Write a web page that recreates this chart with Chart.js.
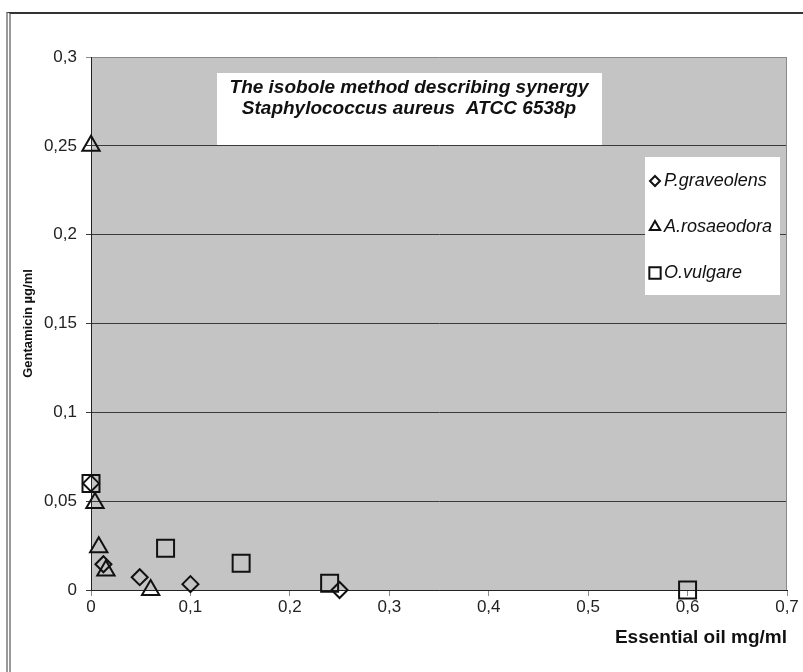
<!DOCTYPE html>
<html>
<head>
<meta charset="utf-8">
<script src="https://cdn.jsdelivr.net/npm/chart.js@4.4.1/dist/chart.umd.min.js"></script>
<style>
  html, body { margin: 0; padding: 0; background: #fff; }
  #wrap { position: relative; width: 803px; height: 672px; overflow: hidden; }
  #frame { position: absolute; left: 6px; top: 12px; width: 900px; height: 800px;
           border-top: 2px solid #333; border-left: 5px double #9a9a9a; }
  canvas { position: absolute; left: 0; top: 0; }
</style>
</head>
<body>
<div id="wrap">
  <div id="frame"></div>
  <canvas id="isobole" width="803" height="672"></canvas>
</div>
<script>
// values
const series_names = ["P.graveolens", "A.rosaeodora", "O.vulgare"];
const point_styles = ["rectRot", "triangle", "rect"];
const point_sizes = [8, 10, 12];     // radius of the plot markers
const legend_sizes = [5, 6, 8];      // radius of the legend markers

const graveolens_x = [0, 0.0125, 0.049, 0.1, 0.25];
const graveolens_y = [0.06, 0.0145, 0.0072, 0.0033, 0];
const rosaeodora_x = [0, 0.004, 0.0078, 0.015, 0.06];
const rosaeodora_y = [0.25, 0.049, 0.024, 0.011, 0];
const vulgare_x = [0, 0.075, 0.151, 0.24, 0.6];
const vulgare_y = [0.06, 0.0235, 0.015, 0.0038, 0];

const x_tick_labels = ["0", "0,1", "0,2", "0,3", "0,4", "0,5", "0,6", "0,7"];
const y_tick_labels = ["0", "0,05", "0,1", "0,15", "0,2", "0,25", "0,3"];

const title_lines = ["The isobole method describing synergy", "Staphylococcus aureus  ATCC 6538p"];

const toPoints = (xs, ys) => xs.map((x, i) => ({x: x, y: ys[i]}));

const all_series = [
    toPoints(graveolens_x, graveolens_y),
    toPoints(rosaeodora_x, rosaeodora_y),
    toPoints(vulgare_x, vulgare_y)
];

const datasets = all_series.map((pts, i) => ({
    label: series_names[i],
    data: pts,
    pointStyle: point_styles[i],
    pointRadius: point_sizes[i],
    pointHoverRadius: point_sizes[i],
    pointBorderWidth: 2,
    pointBackgroundColor: "rgba(0,0,0,0)",
    pointBorderColor: "#111",
    showLine: false,
    clip: false
}));

function drawMarker(ctx, style, x, y, r) {
    ctx.beginPath();
    if (style === "rectRot") {
        ctx.moveTo(x, y - r);
        ctx.lineTo(x + r, y);
        ctx.lineTo(x, y + r);
        ctx.lineTo(x - r, y);
    } else if (style === "triangle") {
        for (let k = 0; k < 3; k++) {
            const a = k * 2 * Math.PI / 3;
            const px = x + Math.sin(a) * r, py = y - Math.cos(a) * r;
            if (k === 0) ctx.moveTo(px, py); else ctx.lineTo(px, py);
        }
    } else {
        const s = r * Math.SQRT1_2;
        ctx.rect(x - s, y - s, 2 * s, 2 * s);
    }
    ctx.closePath();
    ctx.stroke();
}

// grey plot area, thin grey right edge
const plotFrame = {
    id: "plotFrame",
    beforeDraw(chart) {
        const {ctx, chartArea: a} = chart;
        ctx.save();
        ctx.fillStyle = "#c4c4c4";
        ctx.fillRect(a.left, a.top, a.right - a.left, a.bottom - a.top);
        ctx.restore();
    },
    beforeDatasetsDraw(chart) {
        const {ctx, chartArea: a} = chart;
        ctx.save();
        ctx.strokeStyle = "#8a8a8a";
        ctx.lineWidth = 1;
        ctx.beginPath();
        ctx.moveTo(a.right - 0.5, a.top);
        ctx.lineTo(a.right - 0.5, a.bottom);
        ctx.stroke();
        ctx.restore();
    }
};

// white title box and legend box inside the plot area
const boxes = {
    id: "boxes",
    afterDraw(chart) {
        const ctx = chart.ctx;
        ctx.save();

        // title box
        ctx.fillStyle = "#fff";
        ctx.fillRect(217, 73, 385, 72);
        ctx.fillStyle = "#111";
        ctx.font = "italic bold 19px 'Liberation Sans', Arial, sans-serif";
        ctx.textAlign = "center";
        ctx.textBaseline = "middle";
        title_lines.forEach((t, i) => ctx.fillText(t, 409, 88 + i * 21));

        // legend box
        ctx.fillStyle = "#fff";
        ctx.fillRect(645, 157, 135, 138);
        ctx.font = "italic 18px 'Liberation Sans', Arial, sans-serif";
        ctx.textAlign = "left";
        ctx.strokeStyle = "#111";
        ctx.lineWidth = 2;
        chart.data.datasets.forEach((ds, i) => {
            const y = 181 + i * 46;
            drawMarker(ctx, ds.pointStyle, 655, y, legend_sizes[i]);
            ctx.fillStyle = "#111";
            ctx.fillText(ds.label, 664, y);
        });
        ctx.restore();
    }
};

const tick_font = {family: "'Liberation Sans', Arial, sans-serif", size: 17};

new Chart(document.getElementById("isobole").getContext("2d"), {
    type: "scatter",
    data: {datasets: datasets},
    options: {
        responsive: false,
        animation: false,
        devicePixelRatio: 1,
        layout: {padding: {top: 57, right: 16, left: 0, bottom: 0}},
        plugins: {
            legend: {display: false},
            tooltip: {enabled: false}
        },
        scales: {
            x: {
                type: "linear",
                min: 0,
                max: 0.7,
                afterFit: (s) => { s.height = 82; },
                ticks: {
                    stepSize: 0.1,
                    padding: 1,
                    color: "#222",
                    font: tick_font,
                    callback: (v, i) => x_tick_labels[i]
                },
                grid: {drawOnChartArea: false, drawTicks: true, tickLength: 6, color: "#8a8a8a"},
                border: {color: "#222", width: 1},
                title: {
                    display: true,
                    text: "Essential oil mg/ml",
                    align: "end",
                    color: "#111",
                    font: {family: "'Liberation Sans', Arial, sans-serif", size: 19, weight: "bold"},
                    padding: {top: 0, bottom: 23}
                }
            },
            y: {
                type: "linear",
                min: 0,
                max: 0.3,
                afterFit: (s) => { s.width = 91; },
                ticks: {
                    stepSize: 0.05,
                    padding: 9,
                    color: "#222",
                    font: tick_font,
                    callback: (v, i) => y_tick_labels[i]
                },
                grid: {
                    drawTicks: true,
                    tickLength: 5,
                    color: (c) => c.index === y_tick_labels.length - 1 ? "#8a8a8a" : "#3a3a3a",
                    lineWidth: 1
                },
                border: {color: "#222", width: 1},
                title: {
                    display: true,
                    text: "Gentamicin µg/ml",
                    color: "#111",
                    font: {family: "'Liberation Sans', Arial, sans-serif", size: 13, weight: "bold"},
                    padding: {top: 21, bottom: 0}
                }
            }
        }
    },
    plugins: [plotFrame, boxes]
});
</script>
</body>
</html>
